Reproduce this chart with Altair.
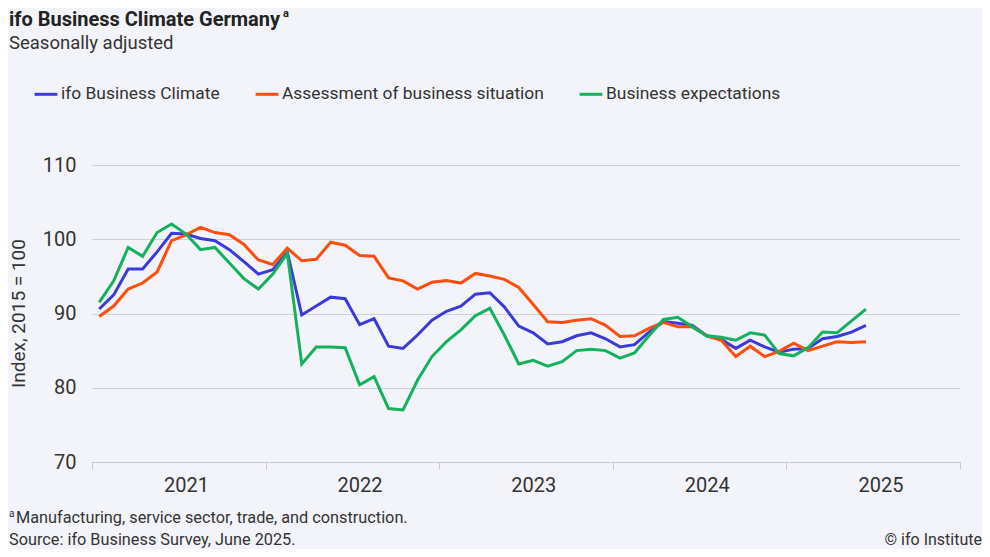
import altair as alt
import pandas as pd

series_names = ["ifo Business Climate", "Assessment of business situation", "Business expectations"]
series_colors = ["#3b3bdc", "#ff4d0d", "#14b25e"]

# monthly values Jan 2021 .. Jun 2025 (index, 2015 = 100)
climate = [
    90.6, 92.5, 96.0, 96.0, 98.3, 100.8, 100.7, 100.1, 99.8, 98.6, 97.0, 95.3,
    95.9, 98.3, 89.8, 91.0, 92.2, 92.0, 88.5, 89.3, 85.6, 85.3, 87.1, 89.1,
    90.3, 91.0, 92.6, 92.8, 90.9, 88.3, 87.4, 85.9, 86.2, 87.0, 87.4, 86.6,
    85.5, 85.8, 87.5, 88.9, 88.7, 88.4, 87.0, 86.5, 85.3, 86.4, 85.5, 84.8,
    85.2, 85.3, 86.6, 86.9, 87.5, 88.4,
]
situation = [
    89.6, 91.0, 93.3, 94.1, 95.6, 99.8, 100.6, 101.6, 100.9, 100.6, 99.3, 97.2,
    96.6, 98.8, 97.1, 97.3, 99.6, 99.2, 97.8, 97.7, 94.8, 94.4, 93.3, 94.2,
    94.45, 94.1, 95.4, 95.05, 94.6, 93.5, 91.2, 88.9, 88.8, 89.1, 89.3, 88.4,
    86.9, 87.0, 88.0, 88.8, 88.2, 88.2, 87.0, 86.4, 84.2, 85.6, 84.2, 84.9,
    86.0, 85.0, 85.6, 86.2, 86.1, 86.2,
]
expectations = [
    91.5, 94.4, 98.9, 97.7, 100.9, 102.05, 100.7, 98.6, 98.9, 96.8, 94.7, 93.3,
    95.3, 98.1, 83.2, 85.5, 85.5, 85.4, 80.4, 81.5, 77.2, 77.0, 81.0, 84.2,
    86.2, 87.8, 89.7, 90.7, 87.1, 83.2, 83.7, 82.9, 83.5, 85.0, 85.2, 85.0,
    84.0, 84.7, 87.0, 89.2, 89.5, 88.2, 87.0, 86.8, 86.4, 87.4, 87.1, 84.6,
    84.3, 85.4, 87.5, 87.4, 89.0, 90.6,
]
year_ticks = [0, 12, 24, 36, 48, 60]
y_ticks = [70, 80, 90, 100, 110]

rows = []
for name, vals in zip(series_names, [climate, situation, expectations]):
    for i, v in enumerate(vals):
        rows.append({"series": name, "month": i + 0.5, "value": v})
df = pd.DataFrame(rows)

FONT = "Roboto"
TXT = "#333333"

color = alt.Color(
    "series:N",
    scale=alt.Scale(domain=series_names, range=series_colors),
    sort=series_names,
    legend=alt.Legend(
        title=None, orient="none", direction="horizontal",
        legendX=-59, legendY=-84,
        symbolType="stroke", symbolStrokeWidth=3, symbolSize=520,
        labelFontSize=17.4, labelFont=FONT, labelColor=TXT,
        columnPadding=29, labelOffset=2, labelLimit=400,
    ),
)

lines = alt.Chart(df).mark_line(strokeWidth=3).encode(
    x=alt.X(
        "month:Q",
        scale=alt.Scale(domain=[0, 60], nice=False, zero=False),
        axis=alt.Axis(
            values=year_ticks, grid=False, title=None,
            domainColor="#c8c9cf", tickColor="#c8c9cf", tickSize=7,
            labelExpr="datum.value < 60 ? '' + (2021 + datum.value / 12) : ''",
            labelOffset=94, labelPadding=6, labelFontSize=20, labelFont=FONT,
            labelColor=TXT, labelFlush=False, labelOverlap=False,
        ),
    ),
    y=alt.Y(
        "value:Q",
        scale=alt.Scale(domain=[70, 110], nice=False, zero=False),
        axis=alt.Axis(
            values=y_ticks, grid=True, gridColor="#cfd0d6", domain=False, ticks=False,
            labelPadding=16, labelFontSize=20, labelFont=FONT, labelColor=TXT,
            title="Index, 2015 = 100", titleFontSize=19, titleFont=FONT,
            titleFontWeight="normal", titleColor=TXT,
            titleX=-74, titleY=148, titleAngle=-90, titleAlign="center",
            titleBaseline="middle",
        ),
    ),
    color=color,
    order="month:Q",
)

def text_layer(txt, x, y, size, weight="normal", align="left", color=TXT):
    return alt.Chart(pd.DataFrame({"t": [txt]})).mark_text(
        align=align, baseline="middle", fontSize=size, fontWeight=weight,
        font=FONT, color=color,
    ).encode(x=alt.value(x), y=alt.value(y), text="t:N")

# page coords -> chart coords: x-92, y-165
texts = [
    text_layer("ifo Business Climate Germany", 9 - 92, 20 - 165, 20, "bold", color="#222222"),
    text_layer("a", 283 - 92, 14 - 165, 11, "bold", color="#222222"),
    text_layer("Seasonally adjusted", 9 - 92, 43 - 165, 18.5),
    text_layer("a", 9 - 92, 514 - 165, 10),
    text_layer("Manufacturing, service sector, trade, and construction.", 16 - 92, 518 - 165, 16.3),
    text_layer("Source: ifo Business Survey, June 2025.", 9 - 92, 540 - 165, 16.3),
    text_layer("© ifo Institute", 982 - 92, 540 - 165, 16, align="right"),
]

chart = alt.layer(lines, *texts).properties(
    width=868, height=297,
    autosize=alt.AutoSizeParams(type="none"),
    padding={"left": 84, "top": 157, "right": 22, "bottom": 87},
    background="#f3f4f9",
).configure_view(stroke=None)

chart.save("out.html", embed_options={"renderer": "svg", "actions": False})
